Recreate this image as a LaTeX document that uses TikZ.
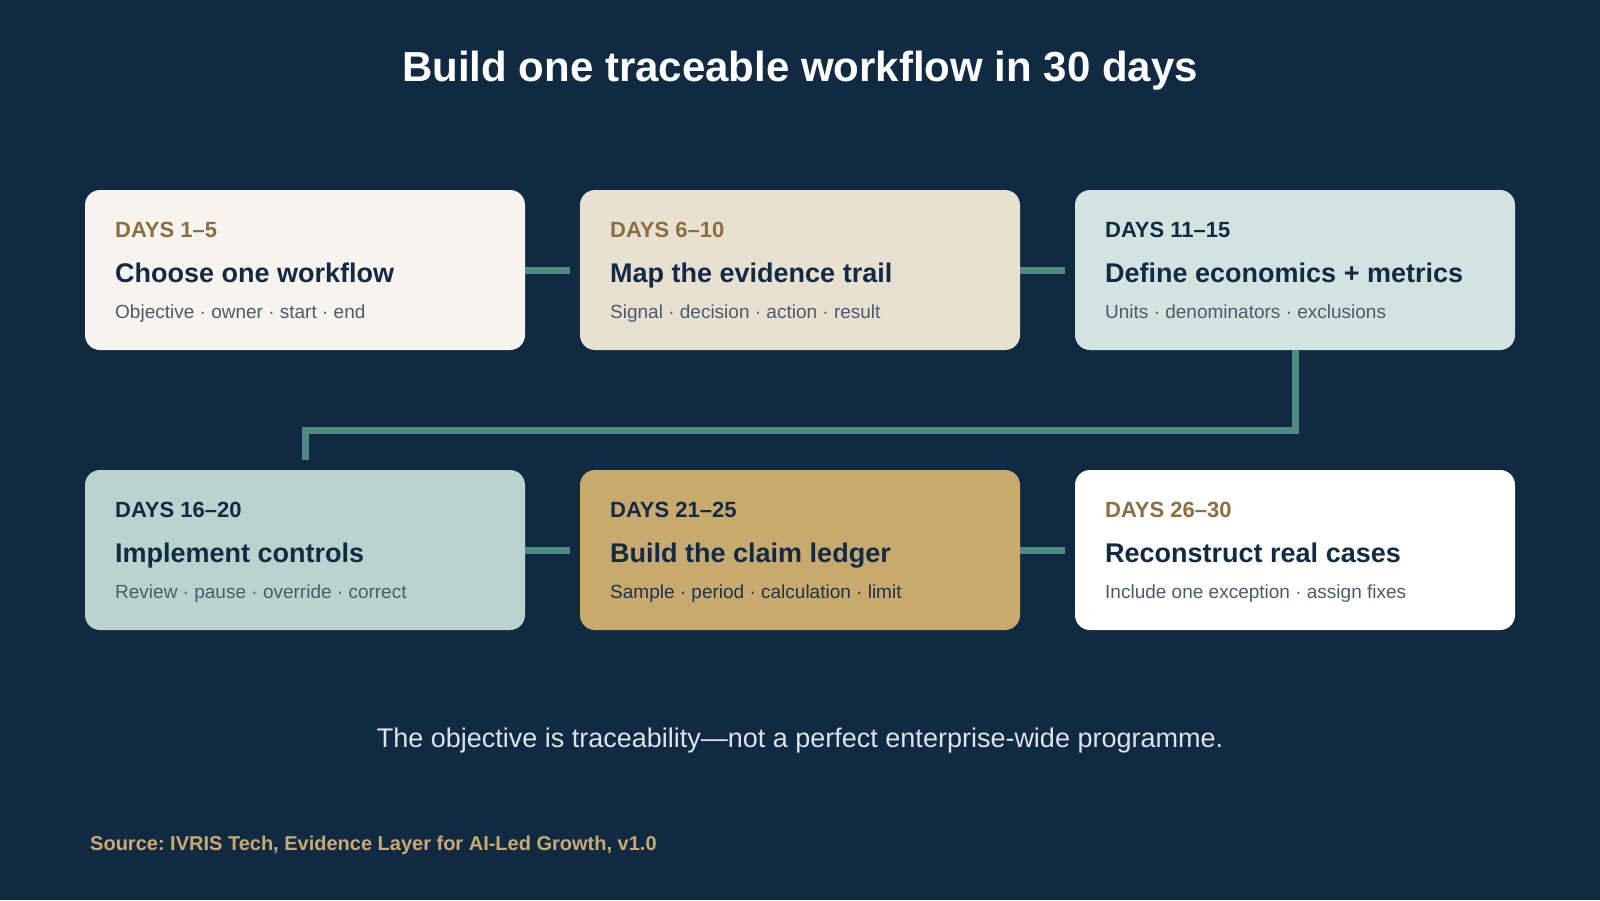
\documentclass[tikz,border=0pt]{standalone}
\usepackage{fontspec}
\setmainfont{Liberation Sans}
\frenchspacing
\definecolor{bg}{HTML}{102A43}
\definecolor{teal}{HTML}{4F8A82}
\definecolor{cA}{HTML}{F7F4EE}
\definecolor{cB}{HTML}{E8E1D2}
\definecolor{cC}{HTML}{D3E4E0}
\definecolor{cD}{HTML}{B9D3CD}
\definecolor{cE}{HTML}{C8A96E}
\definecolor{cF}{HTML}{FFFFFF}
\definecolor{brown}{HTML}{8D6E3F}
\definecolor{navy}{HTML}{122B45}
\definecolor{subgray}{HTML}{4B5B6B}
\definecolor{subdark}{HTML}{1F3447}
\definecolor{foot}{HTML}{DCE4EA}
\definecolor{gold}{HTML}{C9AA72}
\tikzset{
  card/.style={rectangle, rounded corners=15pt, minimum width=440pt, minimum height=160pt, inner sep=0pt, draw=none},
  dayslbl/.style={anchor=base west, inner sep=0pt, font=\fontsize{22}{24}\selectfont\bfseries},
  titlelbl/.style={anchor=base west, inner sep=0pt, text=navy, font=\fontsize{27}{30}\selectfont\bfseries},
  sublbl/.style={anchor=base west, inner sep=0pt, font=\fontsize{19}{22}\selectfont},
  conn/.style={draw=teal, line width=7pt},
}
\begin{document}
\begin{tikzpicture}[x=1pt,y=-1pt]
\fill[bg] (0,0) rectangle (1600,900);
\useasboundingbox (0,0) rectangle (1600,900);

\node[anchor=base, text=white, inner sep=0pt, font=\fontsize{42}{46}\selectfont\bfseries] (title) at (800,81) {Build one traceable workflow in 30 days};

\node[card, fill=cA] (b1) at (305,270) {};
\node[card, fill=cB] (b2) at (800,270) {};
\node[card, fill=cC] (b3) at (1295,270) {};
\node[card, fill=cD] (b4) at (305,550) {};
\node[card, fill=cE] (b5) at (800,550) {};
\node[card, fill=cF] (b6) at (1295,550) {};

\draw[conn] (b1.east) -- ([xshift=-10pt]b2.west);
\draw[conn] (b2.east) -- ([xshift=-10pt]b3.west);
\draw[conn] (b4.east) -- ([xshift=-10pt]b5.west);
\draw[conn] (b5.east) -- ([xshift=-10pt]b6.west);
\draw[conn] (b3.south) -- ++(0,80) -| ([yshift=10pt]b4.north);

% card texts
\node[dayslbl, text=brown] (d1) at (115,237.5) {DAYS 1–5};
\node[titlelbl] (t1) at (115,282.5) {Choose one workflow};
\node[sublbl, text=subgray] (s1) at (115,318.5) {Objective · owner · start · end};

\node[dayslbl, text=brown] (d2) at (610,237.5) {DAYS 6–10};
\node[titlelbl] (t2) at (610,282.5) {Map the evidence trail};
\node[sublbl, text=subgray] (s2) at (610,318.5) {Signal · decision · action · result};

\node[dayslbl, text=navy] (d3) at (1105,237.5) {DAYS 11–15};
\node[titlelbl] (t3) at (1105,282.5) {Define economics + metrics};
\node[sublbl, text=subgray] (s3) at (1105,318.5) {Units · denominators · exclusions};

\node[dayslbl, text=navy] (d4) at (115,517.5) {DAYS 16–20};
\node[titlelbl] (t4) at (115,562.5) {Implement controls};
\node[sublbl, text=subgray] (s4) at (115,598.5) {Review · pause · override · correct};

\node[dayslbl, text=navy] (d5) at (610,517.5) {DAYS 21–25};
\node[titlelbl] (t5) at (610,562.5) {Build the claim ledger};
\node[sublbl, text=subdark] (s5) at (610,598.5) {Sample · period · calculation · limit};

\node[dayslbl, text=brown] (d6) at (1105,517.5) {DAYS 26–30};
\node[titlelbl] (t6) at (1105,562.5) {Reconstruct real cases};
\node[sublbl, text=subgray] (s6) at (1105,598.5) {Include one exception · assign fixes};

\node[anchor=base, text=foot, inner sep=0pt, font=\fontsize{27}{30}\selectfont] (note) at (800,747.5) {The objective is traceability—not a perfect enterprise-wide programme.};

\node[anchor=base west, text=gold, inner sep=0pt, font=\fontsize{20}{22}\selectfont\bfseries] (src) at (90,850) {Source: IVRIS Tech, Evidence Layer for AI-Led Growth, v1.0};
\end{tikzpicture}
\end{document}
